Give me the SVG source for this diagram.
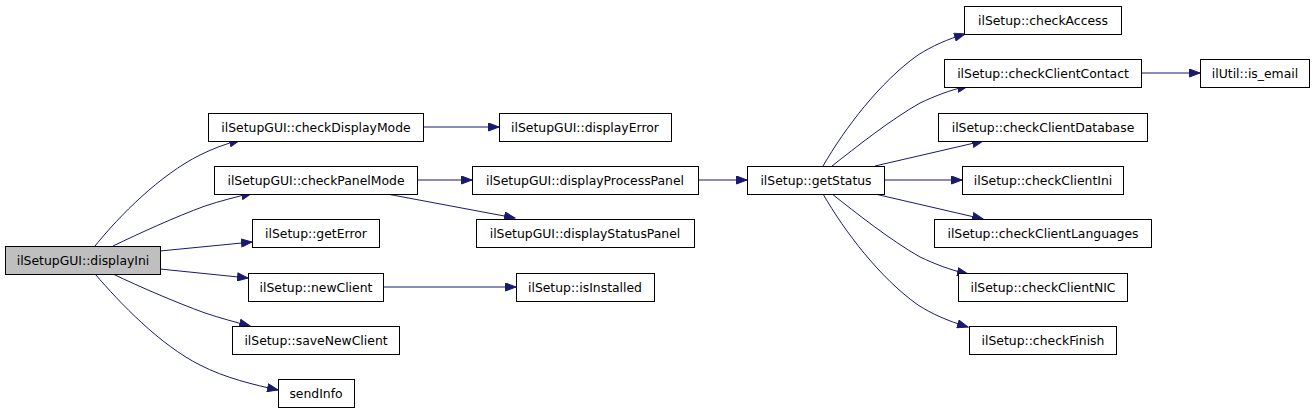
<svg xmlns="http://www.w3.org/2000/svg" width="1315" height="413" viewBox="0 0 1315 413">
<style>
.n rect{fill:#ffffff;stroke:#000000;stroke-width:1}
.n text{font-family:"DejaVu Sans",sans-serif;font-size:12.4px;text-anchor:middle;fill:#000000}
#displayIni rect{fill:#bfbfbf}
#edges path{fill:none;stroke:#191970;stroke-width:1;marker-end:url(#ah)}
</style>
<defs>
<marker id="ah" markerUnits="userSpaceOnUse" markerWidth="12" markerHeight="9" refX="11" refY="4.5" orient="auto">
<path d="M0.5,0.5 L11,4.5 L0.5,8.5 z" fill="#191970" stroke="#191970" stroke-width="1"/>
</marker>
</defs>
<rect width="1315" height="413" fill="#ffffff"/>
<g id="edges">
<path d="M95,246 C120,215 160,175 200,155 C212,149 225,144 240,140"/>
<path d="M113,246 C140,233 175,217 205,206 C220,201 236,197 252,193"/>
<path d="M160,251 L252,242"/>
<path d="M160,269 L248,278"/>
<path d="M113,274 C140,287 175,302 205,313 C220,318 235,322 250,326"/>
<path d="M95,274 C120,303 160,345 200,365 C225,378 255,385 278,390"/>
<path d="M423,127 L499,127"/>
<path d="M417,180 L472,180"/>
<path d="M387,194 L515,218"/>
<path d="M383,287 L516,287"/>
<path d="M698,180 L747,180"/>
<path d="M823,166 C845,128 880,82 918,55 C932,46 948,39 965,34"/>
<path d="M832,166 C855,148 890,120 920,103 C935,96 950,90 968,86"/>
<path d="M875,166 L983,141"/>
<path d="M884,180 L962,180"/>
<path d="M875,194 L983,219"/>
<path d="M832,194 C855,212 890,240 920,257 C935,264 950,270 968,274"/>
<path d="M823,194 C845,232 880,278 918,305 C932,314 948,321 968,327"/>
<path d="M1141,73 L1200,73"/>
</g>
<g id="displayIni" class="n"><rect x="5.5" y="246.5" width="155" height="28"/><text x="83" y="264.5">ilSetupGUI::displayIni</text></g>
<g id="checkDisplayMode" class="n"><rect x="208.5" y="113.5" width="215" height="28"/><text x="316" y="131.5">ilSetupGUI::checkDisplayMode</text></g>
<g id="checkPanelMode" class="n"><rect x="214.5" y="166.5" width="203" height="28"/><text x="316" y="184.5">ilSetupGUI::checkPanelMode</text></g>
<g id="getError" class="n"><rect x="252.5" y="219.5" width="127" height="28"/><text x="316" y="237.5">ilSetup::getError</text></g>
<g id="newClient" class="n"><rect x="248.5" y="273.5" width="135" height="28"/><text x="316" y="291.5">ilSetup::newClient</text></g>
<g id="saveNewClient" class="n"><rect x="232.5" y="326.5" width="167" height="28"/><text x="316" y="344.5">ilSetup::saveNewClient</text></g>
<g id="sendInfo" class="n"><rect x="278.5" y="379.5" width="76" height="28"/><text x="316" y="397.5">sendInfo</text></g>
<g id="displayError" class="n"><rect x="499.5" y="113.5" width="172" height="28"/><text x="585" y="131.5">ilSetupGUI::displayError</text></g>
<g id="displayProcessPanel" class="n"><rect x="472.5" y="166.5" width="226" height="28"/><text x="585" y="184.5">ilSetupGUI::displayProcessPanel</text></g>
<g id="displayStatusPanel" class="n"><rect x="476.5" y="219.5" width="218" height="28"/><text x="585" y="237.5">ilSetupGUI::displayStatusPanel</text></g>
<g id="isInstalled" class="n"><rect x="516.5" y="273.5" width="138" height="28"/><text x="585" y="291.5">ilSetup::isInstalled</text></g>
<g id="getStatus" class="n"><rect x="747.5" y="166.5" width="137" height="28"/><text x="816" y="184.5">ilSetup::getStatus</text></g>
<g id="checkAccess" class="n"><rect x="964.5" y="6.5" width="157" height="28"/><text x="1043" y="24.5">ilSetup::checkAccess</text></g>
<g id="checkClientContact" class="n"><rect x="944.5" y="59.5" width="197" height="28"/><text x="1043" y="77.5">ilSetup::checkClientContact</text></g>
<g id="is_email" class="n"><rect x="1200.5" y="59.5" width="109" height="28"/><text x="1255" y="77.5">ilUtil::is_email</text></g>
<g id="checkClientDatabase" class="n"><rect x="938.5" y="113.5" width="209" height="28"/><text x="1043" y="131.5">ilSetup::checkClientDatabase</text></g>
<g id="checkClientIni" class="n"><rect x="962.5" y="166.5" width="161" height="28"/><text x="1043" y="184.5">ilSetup::checkClientIni</text></g>
<g id="checkClientLanguages" class="n"><rect x="934.5" y="219.5" width="217" height="28"/><text x="1043" y="237.5">ilSetup::checkClientLanguages</text></g>
<g id="checkClientNIC" class="n"><rect x="958.5" y="273.5" width="169" height="28"/><text x="1043" y="291.5">ilSetup::checkClientNIC</text></g>
<g id="checkFinish" class="n"><rect x="969.5" y="326.5" width="147" height="28"/><text x="1043" y="344.5">ilSetup::checkFinish</text></g>
</svg>
